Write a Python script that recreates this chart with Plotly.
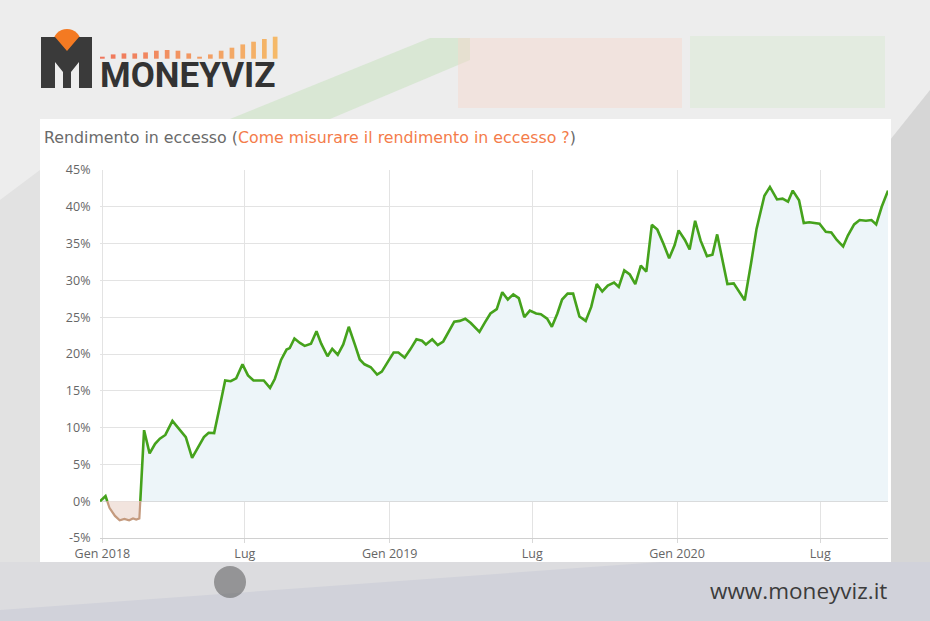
import numpy as np
import pandas as pd
import plotly.graph_objects as go

# ---------------- data ----------------
DATES = [
    "2017-12-29", "2018-01-05", "2018-01-10", "2018-01-17", "2018-01-23", "2018-01-29",
    "2018-02-04", "2018-02-09", "2018-02-13", "2018-02-17", "2018-02-23", "2018-03-02",
    "2018-03-09", "2018-03-15", "2018-03-22", "2018-03-31", "2018-04-07", "2018-04-17",
    "2018-04-25", "2018-05-02", "2018-05-10", "2018-05-16", "2018-05-23", "2018-05-30",
    "2018-06-06", "2018-06-13", "2018-06-20", "2018-06-28", "2018-07-05", "2018-07-12",
    "2018-07-18", "2018-07-25", "2018-08-02", "2018-08-08", "2018-08-16", "2018-08-23",
    "2018-08-27", "2018-09-02", "2018-09-09", "2018-09-15", "2018-09-23", "2018-09-30",
    "2018-10-06", "2018-10-14", "2018-10-20", "2018-10-27", "2018-11-03", "2018-11-10",
    "2018-11-18", "2018-11-24", "2018-11-30", "2018-12-08", "2018-12-16", "2018-12-22",
    "2018-12-30", "2019-01-06", "2019-01-12", "2019-01-20", "2019-01-27", "2019-02-04",
    "2019-02-11", "2019-02-16", "2019-02-24", "2019-03-03", "2019-03-10", "2019-03-17",
    "2019-03-24", "2019-03-31", "2019-04-07", "2019-04-14", "2019-04-25", "2019-05-02",
    "2019-05-09", "2019-05-17", "2019-05-24", "2019-05-31", "2019-06-07", "2019-06-14",
    "2019-06-21", "2019-06-28", "2019-07-06", "2019-07-12", "2019-07-20", "2019-07-26",
    "2019-08-02", "2019-08-08", "2019-08-15", "2019-08-22", "2019-08-30", "2019-09-07",
    "2019-09-14", "2019-09-21", "2019-09-28", "2019-10-05", "2019-10-13", "2019-10-19",
    "2019-10-26", "2019-11-02", "2019-11-09", "2019-11-16", "2019-11-23", "2019-11-30",
    "2019-12-07", "2019-12-15", "2019-12-22", "2019-12-29", "2020-01-03", "2020-01-11",
    "2020-01-17", "2020-01-24", "2020-01-31", "2020-02-08", "2020-02-15", "2020-02-21",
    "2020-02-28", "2020-03-05", "2020-03-13", "2020-03-20", "2020-03-27", "2020-04-04",
    "2020-04-11", "2020-04-21", "2020-04-28", "2020-05-07", "2020-05-14", "2020-05-21",
    "2020-05-27", "2020-06-04", "2020-06-10", "2020-06-17", "2020-06-23", "2020-06-30",
    "2020-07-08", "2020-07-15", "2020-07-22", "2020-07-30", "2020-08-05", "2020-08-13",
    "2020-08-20", "2020-08-28", "2020-09-04", "2020-09-10", "2020-09-17", "2020-09-25",
]
VALUES = [
    0.0, 0.7, -0.9, -2.0, -2.6, -2.4,
    -2.6, -2.35, -2.5, -2.35, 9.65, 6.5,
    7.8, 8.5, 9.0, 10.9, 10.0, 8.7,
    5.9, 7.2, 8.7, 9.3, 9.25, 12.8,
    16.4, 16.3, 16.7, 18.6, 17.1, 16.4,
    16.4, 16.4, 15.4, 16.6, 19.2, 20.6,
    20.8, 22.1, 21.5, 21.1, 21.4, 23.1,
    21.4, 19.7, 20.7, 19.9, 21.3, 23.7,
    21.2, 19.25, 18.6, 18.2, 17.2, 17.6,
    19.0, 20.2, 20.2, 19.5, 20.6, 22.0,
    21.8, 21.3, 22.0, 21.2, 21.7, 23.0,
    24.4, 24.5, 24.8, 24.2, 23.0, 24.3,
    25.5, 26.1, 28.4, 27.4, 28.1, 27.6,
    25.0, 25.9, 25.5, 25.4, 24.8, 23.7,
    25.5, 27.4, 28.2, 28.2, 25.1, 24.5,
    26.4, 29.5, 28.5, 29.3, 29.7, 29.1,
    31.35, 30.8, 29.5, 32.0, 31.2, 37.55,
    36.9, 34.9, 33.0, 34.8, 36.8, 35.5,
    34.2, 38.1, 35.4, 33.3, 33.5, 36.25,
    32.5, 29.5, 29.6, 28.5, 27.3, 32.3,
    37.0, 41.5, 42.7, 41.0, 41.1, 40.7,
    42.2, 40.9, 37.8, 37.9, 37.8, 37.7,
    36.6, 36.5, 35.5, 34.6, 36.1, 37.6,
    38.2, 38.1, 38.2, 37.6, 40.0, 42.2,
]
X_TICK_DATES = ["2018-01-01", "2018-07-01", "2019-01-01", "2019-07-01", "2020-01-01", "2020-07-01"]
X_TICK_LABELS = ["Gen 2018", "Lug", "Gen 2019", "Lug", "Gen 2020", "Lug"]
Y_TICKS = [-5, 0, 5, 10, 15, 20, 25, 30, 35, 40, 45]
Y_TICK_LABELS = [f"{v}%" for v in Y_TICKS]
TITLE = "Rendimento in eccesso ("
TITLE_LINK = "Come misurare il rendimento in eccesso ?"
BRAND = "MONEYVIZ"
SITE = "www.moneyviz.it"

# ---------------- geometry helpers ----------------
W, H = 930, 621
ML, MR, MT, MB = 100, 42, 170, 83


def fx(px):
    return (px - ML) / (W - ML - MR)


def fy(py):
    return (H - MB - py) / (H - MT - MB)


def poly(points):
    return "M " + " L ".join(f"{fx(a):.5f},{fy(b):.5f}" for a, b in points) + " Z"


# ---------------- split series at zero ----------------
t = pd.to_datetime(DATES).values.astype("datetime64[ns]").astype("int64").astype(float)
v = np.array(VALUES, dtype=float)
xs, ys = [], []
for i in range(len(v)):
    if i > 0 and v[i - 1] * v[i] < 0:
        f = v[i - 1] / (v[i - 1] - v[i])
        xs.append(t[i - 1] + f * (t[i] - t[i - 1]))
        ys.append(0.0)
    xs.append(t[i])
    ys.append(v[i])
xs = pd.to_datetime(np.array(xs).astype("int64"))
ys = np.array(ys)
pos = np.where(ys >= 0, ys, np.nan)
neg = np.where(ys <= 0, ys, np.nan)

fig = go.Figure()
fig.add_trace(go.Scatter(
    x=xs, y=pos, mode="lines", connectgaps=False,
    line=dict(color="#45a21c", width=2.6),
    fill="tozeroy", fillcolor="#edf5f9", hoverinfo="skip", showlegend=False,
))
fig.add_trace(go.Scatter(
    x=xs, y=neg, mode="lines", connectgaps=False,
    line=dict(color="#c49a7e", width=2.2),
    fill="tozeroy", fillcolor="#f2e4de", hoverinfo="skip", showlegend=False,
))

# ---------------- decorations ----------------
shapes = []
shapes.append(dict(type="path", path=poly([(230, 119), (330, 119), (470, 60), (470, 38), (430, 38)]),
                   xref="paper", yref="paper", fillcolor="rgba(200,225,192,0.55)", line_width=0, layer="below"))
shapes.append(dict(type="rect", x0=fx(458), x1=fx(682), y0=fy(108), y1=fy(38), xref="paper", yref="paper",
                   fillcolor="rgba(246,214,205,0.45)", line_width=0, layer="below"))
shapes.append(dict(type="rect", x0=fx(690), x1=fx(885), y0=fy(108), y1=fy(36), xref="paper", yref="paper",
                   fillcolor="rgba(214,232,208,0.45)", line_width=0, layer="below"))
shapes.append(dict(type="path", path=poly([(890, 140), (930, 90), (930, 600), (890, 600)]),
                   xref="paper", yref="paper", fillcolor="#d6d6d6", line_width=0, layer="below"))
shapes.append(dict(type="path", path=poly([(0, 200), (40, 170), (40, 600), (0, 600)]),
                   xref="paper", yref="paper", fillcolor="#e2e2e2", line_width=0, layer="below"))
shapes.append(dict(type="rect", x0=fx(0), x1=fx(930), y0=fy(621), y1=fy(562), xref="paper", yref="paper",
                   fillcolor="#d1d2da", line_width=0, layer="below"))
shapes.append(dict(type="path", path=poly([(0, 562), (660, 562), (0, 610)]),
                   xref="paper", yref="paper", fillcolor="#dcdcdf", line_width=0, layer="below"))
shapes.append(dict(type="circle", x0=fx(214), x1=fx(246), y0=fy(598), y1=fy(566), xref="paper", yref="paper",
                   fillcolor="rgba(90,90,90,0.55)", line_width=0, layer="below"))
# white card
shapes.append(dict(type="rect", x0=fx(40), x1=fx(891), y0=fy(562), y1=fy(119), xref="paper", yref="paper",
                   fillcolor="#ffffff", line_width=0, layer="below"))
# logo: orange circle + dark mark
shapes.append(dict(type="circle", x0=fx(53), x1=fx(81), y0=fy(57), y1=fy(29), xref="paper", yref="paper",
                   fillcolor="#f47a22", line_width=0, layer="below"))
shapes.append(dict(type="path", path=poly([(41, 37), (55, 37), (67, 51), (79, 37), (92, 37), (92, 88), (79, 88),
                                          (79, 62), (71, 72), (71, 88), (63, 88), (63, 72), (55, 62), (55, 88),
                                          (41, 88)]),
                   xref="paper", yref="paper", fillcolor="#3a3a3a", line_width=0, layer="below"))
bar_h = [2, 4.3, 5.3, 5.3, 6.3, 8, 8.7, 8, 5.3, 2, 4.3, 8, 11, 14.3, 17, 19.7, 22]
for i, h in enumerate(bar_h):
    fr = i / (len(bar_h) - 1)
    r = int(240 + (245 - 240) * fr)
    g = int(118 + (185 - 118) * fr)
    b = int(92 + (105 - 92) * fr)
    x0 = 100 + 10.8 * i
    shapes.append(dict(type="rect", x0=fx(x0), x1=fx(x0 + 4.7), y0=fy(58.7), y1=fy(58.7 - h),
                       xref="paper", yref="paper", fillcolor=f"rgb({r},{g},{b})", line_width=0, layer="below"))

annotations = [
    dict(text=f'{TITLE}<span style="color:#f47c4a">{TITLE_LINK}</span>)', x=fx(42), y=fy(137),
         xref="paper", yref="paper", xanchor="left", yanchor="middle", showarrow=False,
         font=dict(family="DejaVu Sans", size=15.8, color="#6a6a6a")),
    dict(text=f"<b>{BRAND}</b>", x=fx(98), y=fy(75), xref="paper", yref="paper", xanchor="left",
         yanchor="middle", showarrow=False, font=dict(family="Roboto", size=35, color="#333333")),
    dict(text=SITE, x=fx(889), y=fy(590), xref="paper", yref="paper", xanchor="right", yanchor="middle",
         showarrow=False, font=dict(family="Open Sans", size=22.5, color="#3c3c3c")),
]

fig.update_layout(
    width=W, height=H, autosize=False,
    margin=dict(l=ML, r=MR, t=MT, b=MB, pad=0),
    paper_bgcolor="#ededed", plot_bgcolor="rgba(0,0,0,0)",
    shapes=shapes, annotations=annotations, showlegend=False,
    xaxis=dict(type="date", range=[DATES[0], DATES[-1]], tickvals=X_TICK_DATES, ticktext=X_TICK_LABELS,
               showgrid=True, gridcolor="#e3e3e3", gridwidth=1, zeroline=False,
               showline=True, linecolor="#d0d0d0", linewidth=1,
               ticks="outside", ticklen=4, tickcolor="#d8d8d8",
               tickfont=dict(family="Open Sans", size=12.5, color="#666666")),
    yaxis=dict(range=[-5, 45], tickvals=Y_TICKS, ticktext=Y_TICK_LABELS,
               showgrid=True, gridcolor="#e3e3e3", gridwidth=1,
               zeroline=True, zerolinecolor="#d2d2d2", zerolinewidth=1,
               ticks="outside", ticklen=6, tickcolor="rgba(0,0,0,0)",
               tickfont=dict(family="Open Sans", size=12.5, color="#666666")),
)

fig.write_html("out.html", config={"displayModeBar": False},
               post_script="document.body.style.margin='0';document.body.style.overflow='hidden';")
